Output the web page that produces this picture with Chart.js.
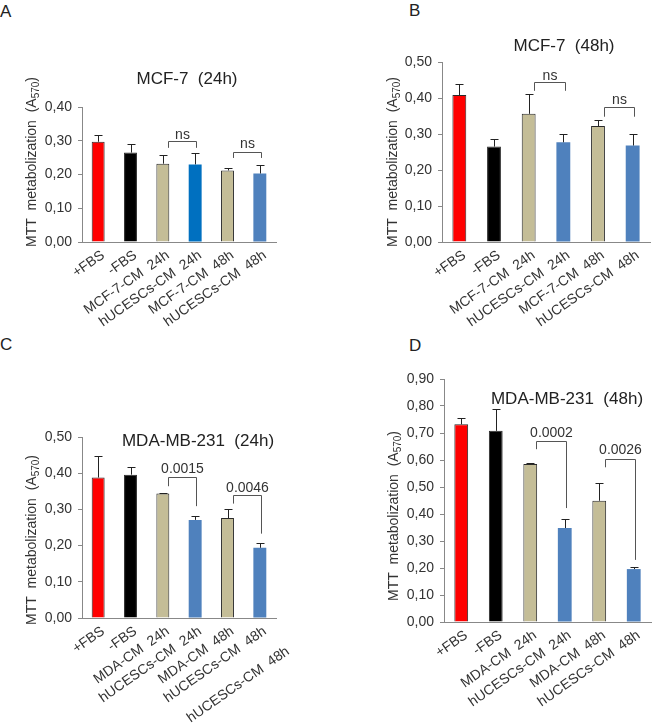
<!DOCTYPE html>
<html>
<head>
<meta charset="utf-8">
<script src="https://cdn.jsdelivr.net/npm/chart.js@4.4.1/dist/chart.umd.min.js"></script>
<style>
  body { margin: 0; background: #fff; }
  #wrap { position: relative; width: 654px; height: 723px; overflow: hidden; }
  canvas { position: absolute; }
  .letter { position: absolute; font: 17px "Liberation Sans", Arial, sans-serif; color: #222; line-height: 1; }
</style>
</head>
<body>
<div id="wrap">
  <div class="letter" style="left:0;top:3px">A</div>
  <div class="letter" style="left:409px;top:2px">B</div>
  <div class="letter" style="left:0;top:336px">C</div>
  <div class="letter" style="left:409px;top:337px">D</div>
  <canvas id="chartA" width="327" height="360" style="left:0;top:0"></canvas>
  <canvas id="chartB" width="327" height="360" style="left:327px;top:0"></canvas>
  <canvas id="chartC" width="327" height="363" style="left:0;top:360px"></canvas>
  <canvas id="chartD" width="327" height="363" style="left:327px;top:360px"></canvas>
</div>
<script>
// ---- data ----
const labelsMCF = ['+FBS', '-FBS', 'MCF-7-CM  24h', 'hUCESCs-CM  24h', 'MCF-7-CM  48h', 'hUCESCs-CM  48h'];
const labelsMDA = ['+FBS', '-FBS', 'MDA-CM  24h', 'hUCESCs-CM  24h', 'MDA-CM  48h', 'hUCESCs-CM  48h'];

const meanA = [0.297, 0.265, 0.232, 0.230, 0.212, 0.203];
const errA  = [0.020, 0.025, 0.026, 0.035, 0.008, 0.025];
const meanB = [0.408, 0.265, 0.356, 0.277, 0.322, 0.268];
const errB  = [0.031, 0.020, 0.054, 0.023, 0.016, 0.032];
const meanC = [0.388, 0.396, 0.344, 0.271, 0.276, 0.194];
const errC  = [0.060, 0.021, 0.002, 0.012, 0.024, 0.012];
const meanD = [0.732, 0.708, 0.585, 0.348, 0.449, 0.196];
const errD  = [0.025, 0.080, 0.003, 0.035, 0.065, 0.007];

// brackets: bar indices, bracket top, where each leg stops, label and its height (all in A570 units)
const bracketsA = [
  { from: 2, to: 3, top: 0.299, leftEnd: 0.279, rightEnd: 0.279, text: 'ns', textY: 0.317 },
  { from: 4, to: 5, top: 0.267, leftEnd: 0.249, rightEnd: 0.249, text: 'ns', textY: 0.290 }
];
const bracketsB = [
  { from: 2, to: 3, top: 0.445, leftEnd: 0.420, rightEnd: 0.420, text: 'ns', textY: 0.461 },
  { from: 4, to: 5, top: 0.374, leftEnd: 0.348, rightEnd: 0.348, text: 'ns', textY: 0.394 }
];
const bracketsC = [
  { from: 2, to: 3, top: 0.390, leftEnd: 0.364, rightEnd: 0.309, text: '0.0015', textY: 0.410 },
  { from: 4, to: 5, top: 0.339, leftEnd: 0.316, rightEnd: 0.233, text: '0.0046', textY: 0.359 }
];
const bracketsD = [
  { from: 2, to: 3, top: 0.672, leftEnd: 0.640, rightEnd: 0.422, text: '0.0002', textY: 0.699 },
  { from: 4, to: 5, top: 0.604, leftEnd: 0.573, rightEnd: 0.230, text: '0.0026', textY: 0.635 }
];

// ---- styles ----
const FONT = '"Liberation Sans", Arial, Helvetica, sans-serif';
const TAN = '#c4bd97';
const BLUE = '#4f81bd';
const coloursA = ['#ff0000', '#000000', TAN, '#0070c0', TAN, BLUE];
const coloursStd = ['#ff0000', '#000000', TAN, BLUE, TAN, BLUE];
const bordersStd = [1, 1, 1, 0, 1, 0];

// error bars, brackets, titles drawn on top of the bars
const decor = {
  id: 'decor',
  afterDatasetsDraw(chart, args, opts) {
    const ctx = chart.ctx;
    const y = chart.scales.y;
    const bars = chart.getDatasetMeta(0).data;
    const means = chart.data.datasets[0].data;
    ctx.save();

    // one-sided error bars
    ctx.strokeStyle = '#222';
    ctx.lineWidth = 1;
    bars.forEach((bar, i) => {
      const x = Math.round(bar.x) + 0.5;
      const y0 = y.getPixelForValue(means[i]);
      const y1 = Math.round(y.getPixelForValue(means[i] + opts.err[i])) + 0.5;
      ctx.beginPath();
      ctx.moveTo(x, y0);
      ctx.lineTo(x, y1);
      ctx.moveTo(x - 4, y1);
      ctx.lineTo(x + 4, y1);
      ctx.stroke();
    });

    // significance brackets
    ctx.strokeStyle = '#555';
    ctx.fillStyle = '#333';
    ctx.font = '14px ' + FONT;
    ctx.textAlign = 'center';
    ctx.textBaseline = 'middle';
    opts.brackets.forEach(b => {
      const xl = Math.round(bars[b.from].x + bars[b.from].width * 0.4) + 0.5;
      const xr = Math.round(bars[b.to].x + bars[b.to].width * 0.1) + 0.5;
      const yt = Math.round(y.getPixelForValue(b.top)) + 0.5;
      ctx.beginPath();
      ctx.moveTo(xl, y.getPixelForValue(b.leftEnd));
      ctx.lineTo(xl, yt);
      ctx.lineTo(xr, yt);
      ctx.lineTo(xr, y.getPixelForValue(b.rightEnd));
      ctx.stroke();
      ctx.fillText(b.text, (xl + xr) / 2, y.getPixelForValue(b.textY));
    });

    // chart title
    ctx.fillStyle = '#222';
    ctx.font = '17px ' + FONT;
    ctx.fillText(opts.title, opts.titleX, opts.titleY);

    // y axis title with subscript
    ctx.translate(opts.yTitleX, opts.yTitleY);
    ctx.rotate(-Math.PI / 2);
    ctx.fillStyle = '#333';
    const main = 'MTT  metabolization  (A';
    ctx.font = '14px ' + FONT;
    const w1 = ctx.measureText(main).width;
    const w3 = ctx.measureText(')').width;
    ctx.font = '10px ' + FONT;
    const w2 = ctx.measureText('570').width;
    let x0 = -(w1 + w2 + w3) / 2;
    ctx.textAlign = 'left';
    ctx.font = '14px ' + FONT;
    ctx.fillText(main, x0, 0);
    ctx.font = '10px ' + FONT;
    ctx.fillText('570', x0 + w1, 4);
    ctx.font = '14px ' + FONT;
    ctx.fillText(')', x0 + w1 + w2, 0);
    ctx.restore();

    // stray duplicated tick label (panel C)
    if (opts.extraLabel) {
      const e = opts.extraLabel;
      ctx.save();
      ctx.translate(e.x, e.y);
      ctx.rotate(-35 * Math.PI / 180);
      ctx.font = '14px ' + FONT;
      ctx.fillStyle = '#333';
      ctx.textAlign = 'right';
      ctx.textBaseline = 'middle';
      ctx.fillText(e.text, 0, 0);
      ctx.restore();
    }
  }
};

function makePanel(id, p) {
  const canvas = document.getElementById(id);
  const H = canvas.height;
  const W = canvas.width;
  return new Chart(canvas, {
    type: 'bar',
    data: {
      labels: p.labels,
      datasets: [{
        data: p.means,
        backgroundColor: p.colours,
        borderColor: '#2a2a2a',
        borderWidth: bordersStd,
        borderSkipped: 'bottom',
        barPercentage: 0.4,
        categoryPercentage: 1.0
      }]
    },
    options: {
      responsive: false,
      animation: false,
      events: [],
      layout: { padding: { left: 0, top: p.top, right: W - p.right, bottom: 0 } },
      plugins: {
        legend: { display: false },
        tooltip: { enabled: false },
        decor: {
          err: p.err, brackets: p.brackets,
          title: p.title, titleX: p.titleX, titleY: p.titleY,
          yTitleX: p.yTitleX, yTitleY: p.yTitleY,
          extraLabel: p.extraLabel
        }
      },
      scales: {
        x: {
          ticks: {
            autoSkip: false, minRotation: 35, maxRotation: 35,
            font: { family: FONT, size: 14 }, color: '#333', padding: 5, labelOffset: 5
          },
          grid: { display: false, drawTicks: false },
          border: { color: '#888', width: 1 },
          afterFit: s => { s.height = H - p.bottom; }
        },
        y: {
          min: 0, max: p.yMax,
          ticks: {
            stepSize: 0.1,
            font: { family: FONT, size: 14 }, color: '#333', padding: 6,
            callback: v => v.toFixed(2).replace('.', ',')
          },
          grid: { drawOnChartArea: false, drawTicks: true, tickLength: 4, color: '#888' },
          border: { color: '#888', width: 1 },
          afterFit: s => { s.width = p.left; }
        }
      }
    },
    plugins: [decor]
  });
}

makePanel('chartA', {
  labels: labelsMCF, means: meanA, err: errA, brackets: bracketsA, colours: coloursA,
  left: 82, right: 276, top: 107, bottom: 242, yMax: 0.4,
  title: 'MCF-7  (24h)', titleX: 187, titleY: 79, yTitleX: 32, yTitleY: 162
});
makePanel('chartB', {
  labels: labelsMCF, means: meanB, err: errB, brackets: bracketsB, colours: coloursStd,
  left: 115, right: 323, top: 62, bottom: 242, yMax: 0.5,
  title: 'MCF-7  (48h)', titleX: 237, titleY: 46, yTitleX: 66, yTitleY: 162
});
makePanel('chartC', {
  labels: labelsMDA, means: meanC, err: errC, brackets: bracketsC, colours: coloursStd,
  left: 82, right: 276, top: 77, bottom: 258, yMax: 0.5,
  title: 'MDA-MB-231  (24h)', titleX: 198, titleY: 81, yTitleX: 32, yTitleY: 180,
  extraLabel: { text: 'hUCESCs-CM  48h', x: 288, y: 290 }
});
makePanel('chartD', {
  labels: labelsMDA, means: meanD, err: errD, brackets: bracketsD, colours: coloursStd,
  left: 117, right: 324, top: 19, bottom: 262, yMax: 0.9,
  title: 'MDA-MB-231  (48h)', titleX: 240, titleY: 39, yTitleX: 67, yTitleY: 156
});
</script>
</body>
</html>
